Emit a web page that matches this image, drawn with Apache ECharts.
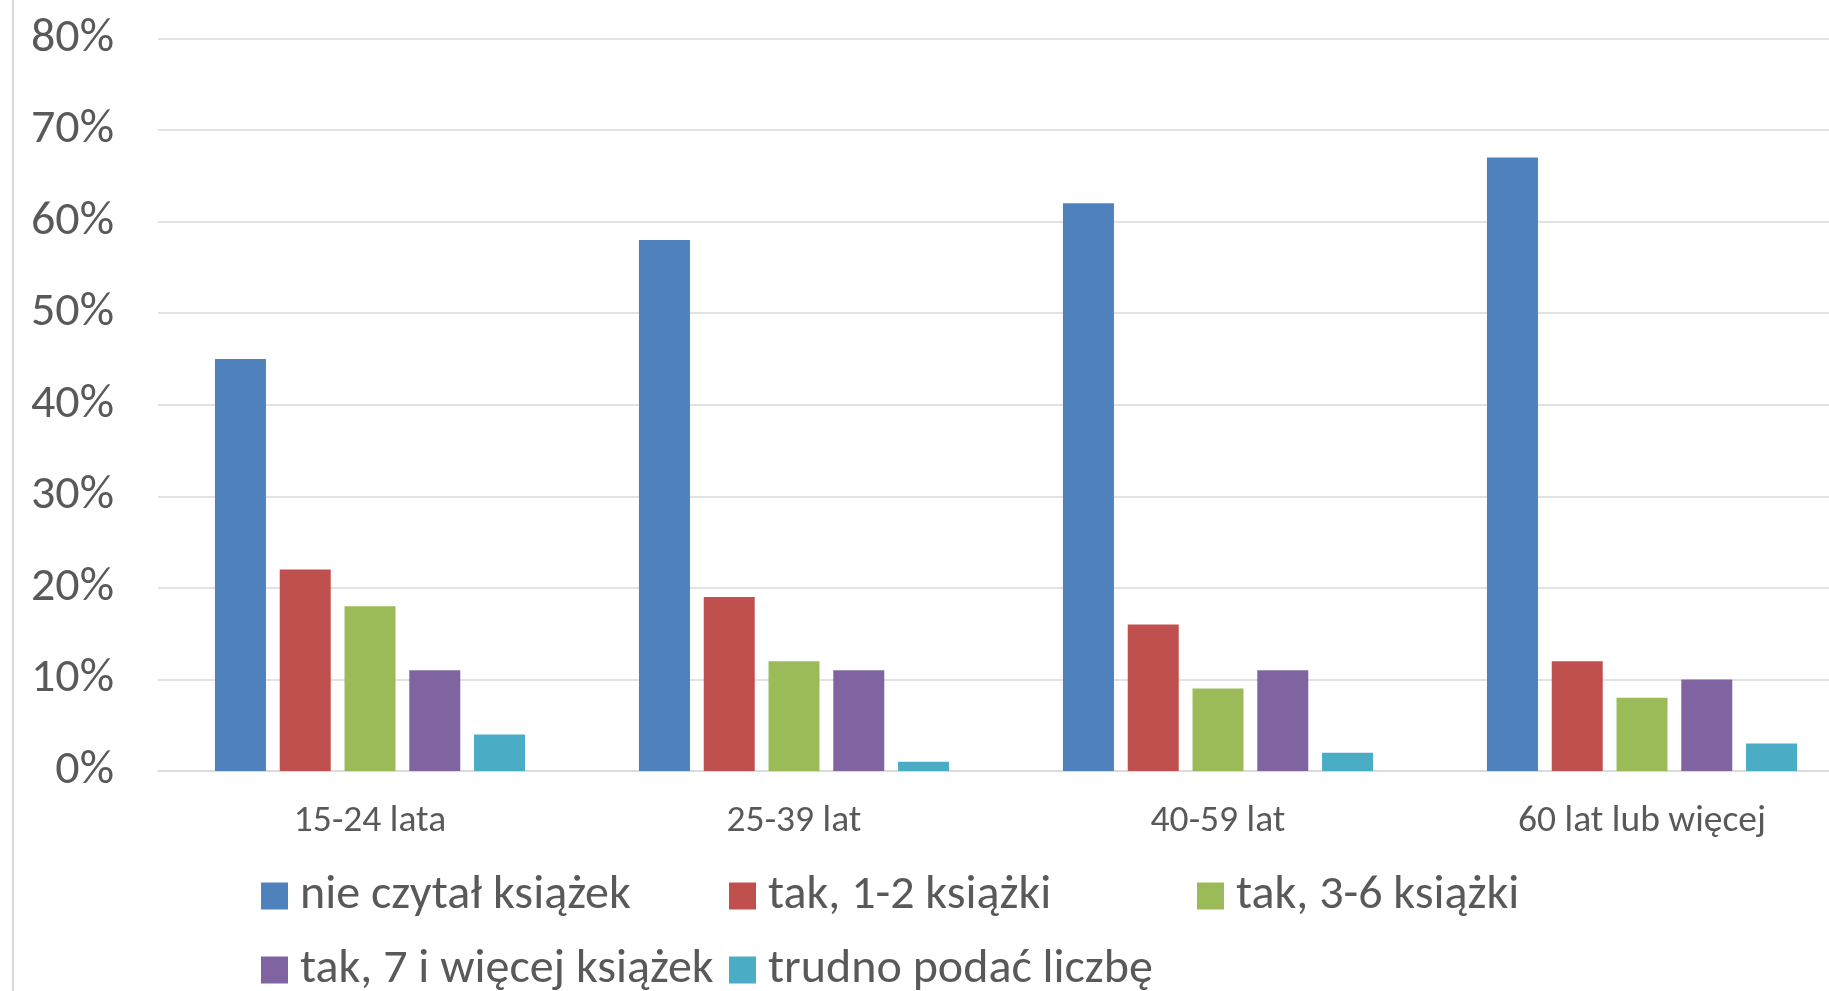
<!DOCTYPE html>
<html>
<head>
<meta charset="utf-8">
<script src="https://cdn.jsdelivr.net/npm/echarts@6/dist/echarts.min.js"></script>
<style>
html,body{margin:0;padding:0;background:#fff;}
#c{width:1829px;height:991px;}
</style>
</head>
<body>
<div id="c"></div>
<script>
const categories = ['15-24 lata', '25-39 lat', '40-59 lat', '60 lat lub więcej'];
const seriesNames = ['nie czytał książek', 'tak, 1-2 książki', 'tak, 3-6 książki', 'tak, 7 i więcej książek', 'trudno podać liczbę'];
const nieCzytal = [45, 58, 62, 67];
const tak12 = [22, 19, 16, 12];
const tak36 = [18, 12, 9, 8];
const tak7 = [11, 11, 11, 10];
const trudno = [4, 1, 2, 3];
const yTicks = [0, 10, 20, 30, 40, 50, 60, 70, 80];
const colors = ['#4F81BD', '#C0504D', '#9BBB59', '#8064A2', '#4BACC6'];

const FONT = "Carlito, Calibri, 'Liberation Sans Narrow', Lato, sans-serif";
const seriesValues = [nieCzytal, tak12, tak36, tak7, trudno];

const chart = echarts.init(document.getElementById('c'), null, {renderer: 'canvas'});
chart.setOption({
  animation: false,
  backgroundColor: '#ffffff',
  color: colors,
  textStyle: {fontFamily: FONT},
  grid: {left: 158, top: 38.5, width: 1696, height: 732.5, outerBoundsMode: 'none', containLabel: false},
  xAxis: {
    type: 'category',
    data: categories,
    axisLine: {lineStyle: {color: '#D9D9D9', width: 1.5}},
    axisTick: {show: false},
    axisLabel: {color: '#595959', fontSize: 37.5, fontFamily: FONT, margin: 32}
  },
  yAxis: {
    type: 'value',
    min: yTicks[0],
    max: yTicks[yTicks.length - 1],
    interval: 10,
    axisLine: {show: false},
    axisTick: {show: false},
    splitLine: {lineStyle: {color: '#D9D9D9', width: 1.5}},
    axisLabel: {color: '#595959', fontSize: 48, fontFamily: FONT, margin: 44, formatter: '{value}%'}
  },
  legend: {
    data: seriesNames,
    left: 256,
    top: 859,
    width: 1420,
    itemWidth: 27,
    itemHeight: 27,
    itemGap: 10,
    icon: 'rect',
    textStyle: {color: '#595959', fontSize: 48, fontFamily: FONT, lineHeight: 64, width: 419, padding: [0, 0, 0, 7]}
  },
  graphic: [{
    type: 'line',
    shape: {x1: 13, y1: 0, x2: 13, y2: 991},
    style: {stroke: '#D9D9D9', lineWidth: 2}
  }],
  series: seriesNames.map((name, i) => ({
    name: name,
    type: 'bar',
    data: seriesValues[i],
    barWidth: 51,
    barGap: '27%',
    itemStyle: {color: colors[i]}
  }))
});
</script>
</body>
</html>
